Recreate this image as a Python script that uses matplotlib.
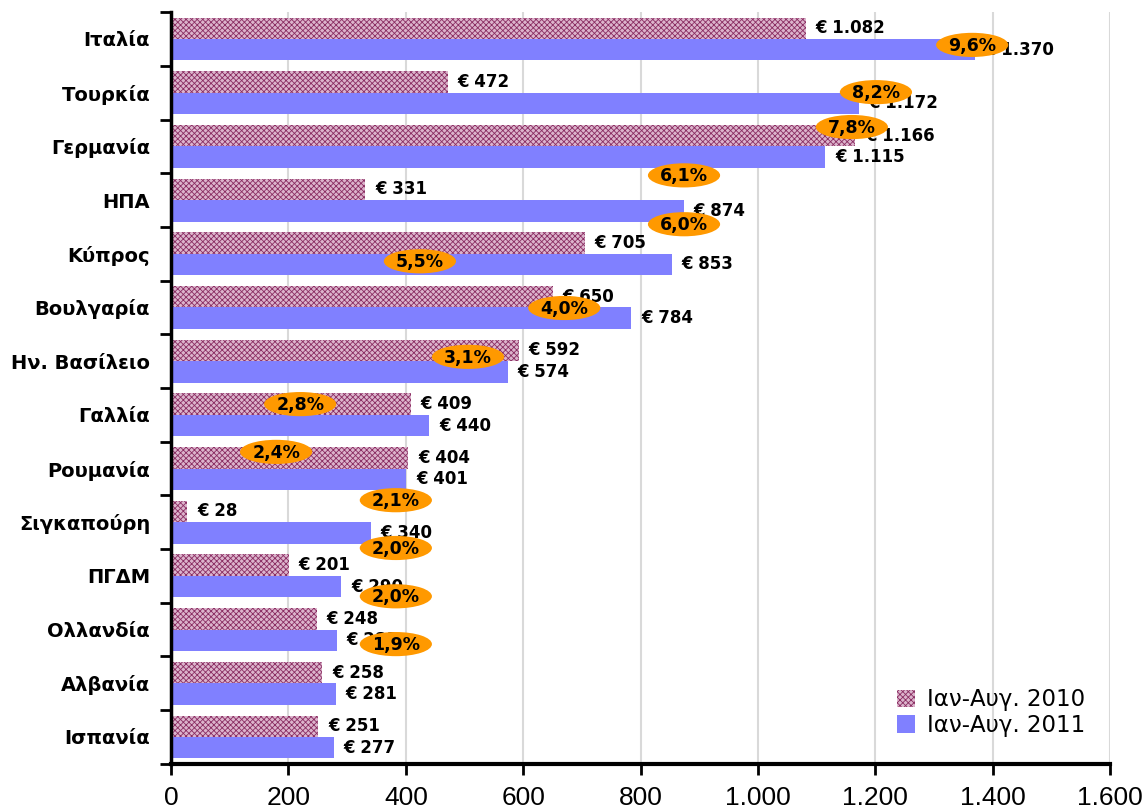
import matplotlib
matplotlib.use("Agg")
import matplotlib.pyplot as plt
from matplotlib.patches import Ellipse
import numpy as np

# Exports by destination country (thousand €), Jan-Aug 2010 vs Jan-Aug 2011
countries = ["Ιταλία", "Τουρκία", "Γερμανία", "ΗΠΑ", "Κύπρος", "Βουλγαρία",
             "Ην. Βασίλειο", "Γαλλία", "Ρουμανία", "Σιγκαπούρη", "ΠΓΔΜ",
             "Ολλανδία", "Αλβανία", "Ισπανία"]
values_2010 = [1082, 472, 1166, 331, 705, 650, 592, 409, 404, 28, 201, 248, 258, 251]
values_2011 = [1370, 1172, 1115, 874, 853, 784, 574, 440, 401, 340, 290, 283, 281, 277]
shares_2011 = ["9,6%", "8,2%", "7,8%", "6,1%", "6,0%", "5,5%", "4,0%", "3,1%",
               "2,8%", "2,4%", "2,1%", "2,0%", "2,0%", "1,9%"]
legend_labels = ["Ιαν-Αυγ. 2010", "Ιαν-Αυγ. 2011"]
xticks = [0, 200, 400, 600, 800, 1000, 1200, 1400, 1600]

# where each share badge sits (x in €, y in category rows)
badge_x = [1365, 1201, 1160, 874, 874, 424, 670, 506, 220, 179, 383, 383, 383, 383]
badge_y = [0.11, 0.99, 1.64, 2.54, 3.45, 4.14, 5.01, 5.92, 6.80, 7.69, 8.59, 9.48, 10.38, 11.27]

plt.rcParams["hatch.linewidth"] = 0.6

fig = plt.figure(figsize=(11.48, 8.10), dpi=100)
ax = fig.add_axes([0.149, 0.057, 0.818, 0.928])

y = np.arange(len(countries))
h = 0.4
ax.barh(y - h / 2, values_2010, height=h, color="#dcb4cc",
        edgecolor="#8a2d62", hatch="xxxxxx", linewidth=0,
        label=legend_labels[0], zorder=2)
ax.barh(y + h / 2, values_2011, height=h, color="#8080ff",
        linewidth=0, label=legend_labels[1], zorder=2)


def euro(v):
    return "€ " + f"{v:,}".replace(",", ".")


for yy, v in zip(y - h / 2, values_2010):
    ax.annotate(euro(v), (v, yy), xytext=(7, 0), textcoords="offset points",
                va="center", ha="left", fontsize=12, fontweight="bold", zorder=3)
for yy, v in zip(y + h / 2, values_2011):
    ax.annotate(euro(v), (v, yy), xytext=(7, 0), textcoords="offset points",
                va="center", ha="left", fontsize=12, fontweight="bold", zorder=3)

# orange oval badges with the 2011 share
for bx, by, s in zip(badge_x, badge_y, shares_2011):
    ax.add_patch(Ellipse((bx, by), width=123, height=0.45, facecolor="#ff9900",
                         edgecolor="none", zorder=4))
    ax.text(bx, by + 0.02, s, ha="center", va="center", fontsize=12.5,
            fontweight="bold", zorder=5)

ax.set_xlim(0, 1600)
ax.set_ylim(len(countries) - 0.5, -0.5)

ax.set_xticks(xticks)
ax.set_xticklabels([f"{t:,}".replace(",", ".") for t in xticks],
                   fontsize=19, family="Liberation Sans")
ax.tick_params(axis="x", direction="out", length=8, width=2, pad=8)
ax.xaxis.grid(True, color="#d9d9d9", linewidth=1.5, zorder=0)
ax.set_axisbelow(True)

ax.set_yticks(np.arange(-0.5, len(countries), 1.0))
ax.set_yticklabels([])
ax.set_yticks(y, minor=True)
ax.set_yticklabels(countries, minor=True, fontsize=14, fontweight="bold")
ax.tick_params(axis="y", which="major", direction="out", length=8, width=2)
ax.tick_params(axis="y", which="minor", length=0, pad=15)

for side in ("top", "right"):
    ax.spines[side].set_visible(False)
ax.spines["left"].set_linewidth(2.5)
ax.spines["bottom"].set_linewidth(3)

ax.legend(loc="lower right", bbox_to_anchor=(0.995, 0.008), frameon=False,
          fontsize=16.5, handlelength=0.8, handleheight=0.8, handletextpad=0.5,
          labelspacing=0.12)

fig.savefig("out.png", dpi=100)
